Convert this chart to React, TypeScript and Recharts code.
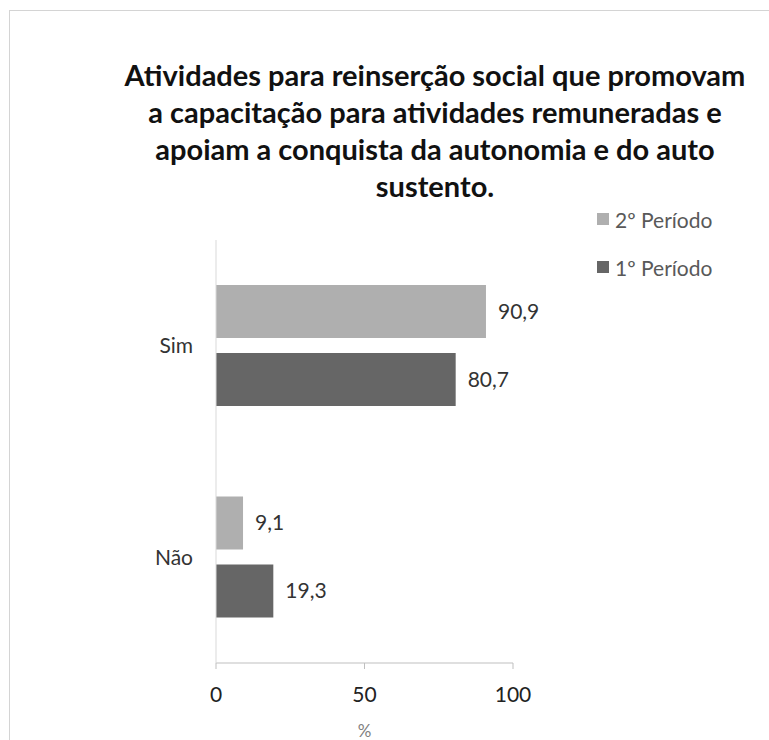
import { BarChart, Bar, XAxis, YAxis, Legend, LabelList } from 'recharts';

const categories = ['Sim', 'Não'];
const periodo2 = [90.9, 9.1];
const periodo1 = [80.7, 19.3];
const xTicks = [0, 50, 100];

const titleLines = [
    'Atividades para reinserção social que promovam',
    'a capacitação para atividades remuneradas e',
    'apoiam a conquista da autonomia e do auto',
    'sustento.',
];

const data = categories.map((name, i) => ({ name, p2: periodo2[i], p1: periodo1[i] }));

const FONT = 'Lato, "Open Sans", sans-serif';
const fmt = (v: number) => String(v).replace('.', ',');

const LegendBox = () => (
    <div style={{ fontFamily: FONT, fontSize: 21, color: '#595959' }}>
        {[
            { label: '2º Período', color: '#afafaf' },
            { label: '1º Período', color: '#666666' },
        ].map((it) => (
            <div key={it.label} style={{ display: 'flex', alignItems: 'center', height: 48 }}>
                <span style={{ width: 12, height: 12, background: it.color, marginRight: 6, display: 'inline-block' }} />
                {it.label}
            </div>
        ))}
    </div>
);

export default function App() {
    return (
        <div style={{ position: 'absolute', left: 0, top: 0, width: 769, height: 740, overflow: 'hidden', background: '#fff' }}>
            <div style={{ position: 'absolute', left: 9, top: 10, width: 800, height: 800, border: '1px solid #d4d4d4' }} />
            <div
                style={{
                    position: 'absolute',
                    left: 100,
                    width: 670,
                    top: 56,
                    textAlign: 'center',
                    fontFamily: FONT,
                    fontWeight: 'bold',
                    fontSize: 29,
                    lineHeight: '37px',
                    color: '#111',
                }}
            >
                {titleLines.map((l) => (
                    <div key={l}>{l}</div>
                ))}
            </div>
            <div style={{ position: 'absolute', left: 0, top: 0 }}>
                <BarChart
                    width={769}
                    height={740}
                    data={data}
                    layout="vertical"
                    margin={{ top: 240, right: 256, bottom: 0, left: 0 }}
                    barCategoryGap={45}
                    barGap={15}
                >
                    <XAxis
                        type="number"
                        domain={[0, 100]}
                        ticks={xTicks}
                        height={77}
                        stroke="#bfbfbf"
                        tick={{ fill: '#222', fontSize: 21, fontFamily: FONT }}
                        tickSize={6}
                        tickMargin={18}
                        label={{ value: '%', position: 'insideBottom', offset: 3, fill: '#7f7f7f', fontSize: 17, fontFamily: FONT }}
                    />
                    <YAxis
                        type="category"
                        dataKey="name"
                        width={216}
                        stroke="#d9d9d9"
                        tickLine={false}
                        tickMargin={17}
                        tick={{ fill: '#333', fontSize: 21, fontFamily: FONT }}
                    />
                    <Legend
                        layout="horizontal"
                        verticalAlign="middle"
                        align="center"
                        content={<LegendBox />}
                        wrapperStyle={{ position: 'absolute', left: 597, top: 195, width: 170 }}
                    />
                    <Bar dataKey="p2" name="2º Período" fill="#afafaf" isAnimationActive={false}>
                        <LabelList dataKey="p2" position="right" offset={12} formatter={fmt} fill="#333" fontSize={21} fontFamily={FONT} />
                    </Bar>
                    <Bar dataKey="p1" name="1º Período" fill="#666666" isAnimationActive={false}>
                        <LabelList dataKey="p1" position="right" offset={12} formatter={fmt} fill="#333" fontSize={21} fontFamily={FONT} />
                    </Bar>
                </BarChart>
            </div>
        </div>
    );
}
